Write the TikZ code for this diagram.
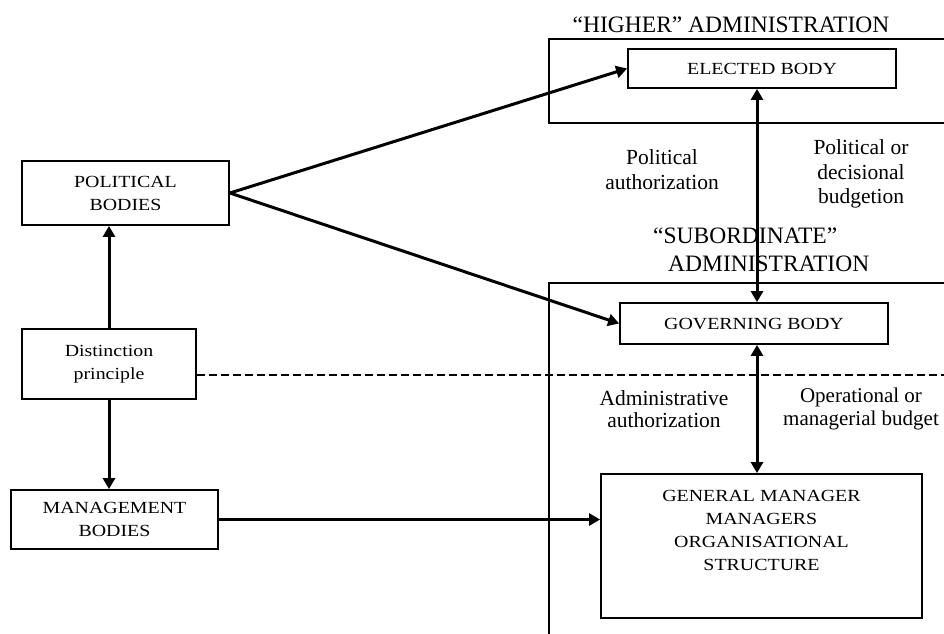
\documentclass[tikz,border=0pt]{standalone}
\usepackage{fontspec}
\setmainfont{Liberation Serif}
\newfontfamily\boxfont[FakeStretch=1.17]{Liberation Serif}
\usetikzlibrary{arrows.meta}
\begin{document}
\begin{tikzpicture}[x=1pt,y=-1pt,
  box/.style={draw, line width=1.8pt, inner sep=0pt, align=center, font=\boxfont\fontsize{17}{23}\selectfont},
  boxtext/.style={inner sep=0pt, align=center, font=\boxfont\fontsize{17}{23}\selectfont},
  outer/.style={draw, line width=1.3pt},
  lab/.style={inner sep=0pt, align=center},
  head/.style={inner sep=0pt, font=\fontsize{23.5}{28}\selectfont},
  arr/.style={line width=3pt, -{Triangle[length=11pt,width=12pt]}},
  darr/.style={line width=3pt, {Triangle[length=11pt,width=12pt]}-{Triangle[length=11pt,width=12pt]}},
  dashline/.style={line width=1.8pt, dash pattern=on 8pt off 4pt}]
\useasboundingbox (0,0) rectangle (944,633);
\clip (0,0) rectangle (944,633);

% outer administrations
\draw[outer] (549,39) rectangle (960,123);
\draw[outer] (549,283) rectangle (960,650);
\node[head, anchor=base] (hhead) at (731,32) {“HIGHER” ADMINISTRATION};
\node[head, anchor=base west] (shead1) at (653,243) {“SUBORDINATE”};
\node[head, anchor=base west] (shead2) at (668,271) {ADMINISTRATION};

% right boxes
\node[box, minimum width=268pt, minimum height=39pt] (elected) at (762,68.5) {ELECTED BODY};
\node[box, minimum width=268pt, minimum height=41pt] (gov) at (754,323.5) {GOVERNING BODY};
\node[box, minimum width=321pt, minimum height=144pt] (gm) at (761.5,546) {};
\node[boxtext] (gmtext) at (761.5,530.5) {GENERAL MANAGER\\MANAGERS\\ORGANISATIONAL\\STRUCTURE};

% left boxes
\node[box, minimum width=207pt, minimum height=64pt] (pol) at (125.5,193) {POLITICAL\\BODIES};
\node[box, minimum width=174pt, minimum height=70pt] (dist) at (109,364) {Distinction\\principle};
\node[box, minimum width=207pt, minimum height=59pt] (mgmt) at (114.5,519.5) {MANAGEMENT\\BODIES};

% labels
\node[lab, font=\fontsize{21.5}{25}\selectfont] (l1) at (662,170) {Political\\authorization};
\node[lab, font=\fontsize{21.5}{24.5}\selectfont] (l2) at (861,174) {Political or\\decisional\\budgetion};
\node[lab, font=\fontsize{21.5}{22.3}\selectfont] (l3) at (664,409) {Administrative\\authorization};
\node[lab, font=\fontsize{21}{22.3}\selectfont] (l4) at (861,409) {Operational or\\managerial budget};

% connectors
\coordinate (vx) at (757,0);
\coordinate (dashend) at (950,375);
\draw[arr] (pol.east) -- (elected.west);
\draw[arr] (pol.east) -- (gov.west);
\draw[arr] (mgmt.east) -- (mgmt.east -| gm.west);
\draw[arr] (dist.north) -- (dist.north |- pol.south);
\draw[arr] (dist.south) -- (dist.south |- mgmt.north);
\draw[darr] (elected.south -| vx) -- (gov.north -| vx);
\draw[darr] (gov.south -| vx) -- (gm.north -| vx);
\draw[dashline] ([yshift=-11pt]dist.east) -- (dashend);
\end{tikzpicture}
\end{document}
